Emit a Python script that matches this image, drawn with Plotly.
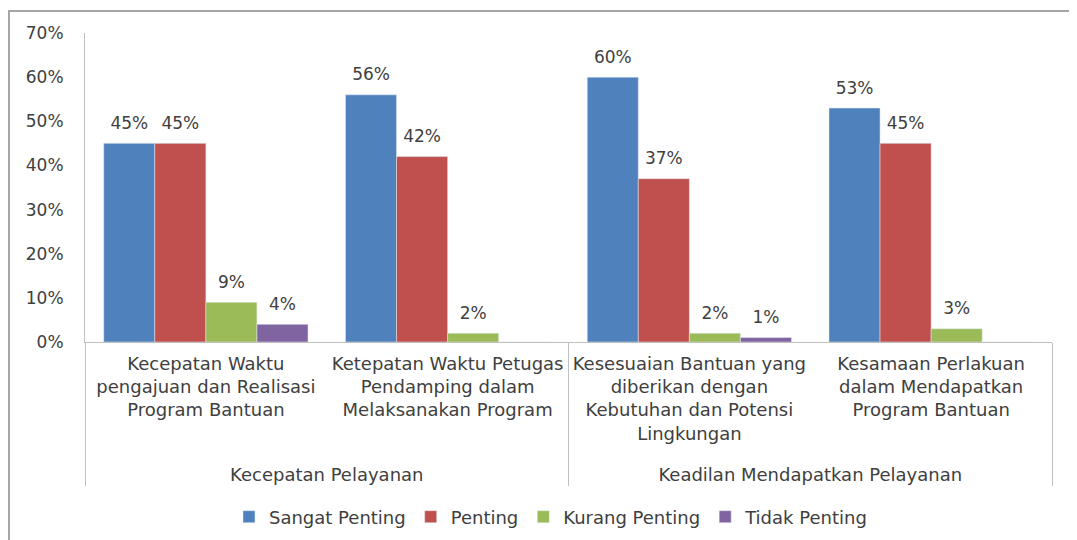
import plotly.graph_objects as go

groups = ["Kecepatan Pelayanan", "Kecepatan Pelayanan",
          "Keadilan Mendapatkan Pelayanan", "Keadilan Mendapatkan Pelayanan"]
categories = ["Kecepatan Waktu<br>pengajuan dan Realisasi<br>Program Bantuan",
              "Ketepatan Waktu Petugas<br>Pendamping dalam<br>Melaksanakan Program",
              "Kesesuaian Bantuan yang<br>diberikan dengan<br>Kebutuhan dan Potensi<br>Lingkungan<br> ",
              "Kesamaan Perlakuan<br>dalam Mendapatkan<br>Program Bantuan"]
series = ["Sangat Penting", "Penting", "Kurang Penting", "Tidak Penting"]
values = {
    "Sangat Penting": [45, 56, 60, 53],
    "Penting": [45, 42, 37, 45],
    "Kurang Penting": [9, 2, 2, 3],
    "Tidak Penting": [4, 0, 1, 0],
}
colors = ["#4F81BD", "#C0504D", "#9BBB59", "#8064A2"]
y_ticks = [0, 10, 20, 30, 40, 50, 60, 70]

FONT = "DejaVu Sans"
TXT = "#404040"

fig = go.Figure()
for s, c in zip(series, colors):
    vals = values[s]
    fig.add_trace(go.Bar(
        x=[groups, categories], y=vals, name=s, marker_color=c,
        text=[f"<span style='font-size:17px'>{v}%</span><br>&nbsp;<br>&nbsp;" if v > 0 else ""
              for v in vals],
        textposition="outside", cliponaxis=False, constraintext="none",
        textfont=dict(family=FONT, size=4, color=TXT),
    ))

# page body adds an 8px offset, so the figure is 8px smaller
fig.update_layout(
    width=1069, height=532,
    margin=dict(l=77, r=25, t=25, b=198, autoexpand=False),
    paper_bgcolor="white", plot_bgcolor="white",
    barmode="group", bargap=0.155, bargroupgap=0,
    font=dict(family=FONT, size=18, color=TXT),
    showlegend=True,
    legend=dict(orientation="h", x=(551 - 8) / 1069, xanchor="center", xref="container",
                y=(540 - 517) / 532, yanchor="middle", yref="container",
                font=dict(family=FONT, size=18, color=TXT),
                itemwidth=30, tracegroupgap=0),
    yaxis=dict(range=[0, 70], tickvals=y_ticks,
               ticktext=[f"{t}%" for t in y_ticks],
               showgrid=False, zeroline=False, showline=True,
               linecolor="#BFBFBF", linewidth=1, ticks="",
               ticklabelstandoff=17,
               tickfont=dict(family=FONT, size=17, color=TXT)),
    xaxis=dict(type="multicategory", showline=True, linecolor="#BFBFBF",
               linewidth=1, ticks="", showdividers=True,
               dividercolor="#BFBFBF", dividerwidth=1,
               ticklabelstandoff=5,
               tickfont=dict(family=FONT, size=18, color=TXT)),
    shapes=[dict(type="rect", xref="paper", yref="paper",
                 x0=-76 / 967, x1=1.1, y0=-1.0, y1=1 + 22 / 309,
                 line=dict(color="#A6A6A6", width=2), layer="below")],
)

fig.write_html("out.html")
